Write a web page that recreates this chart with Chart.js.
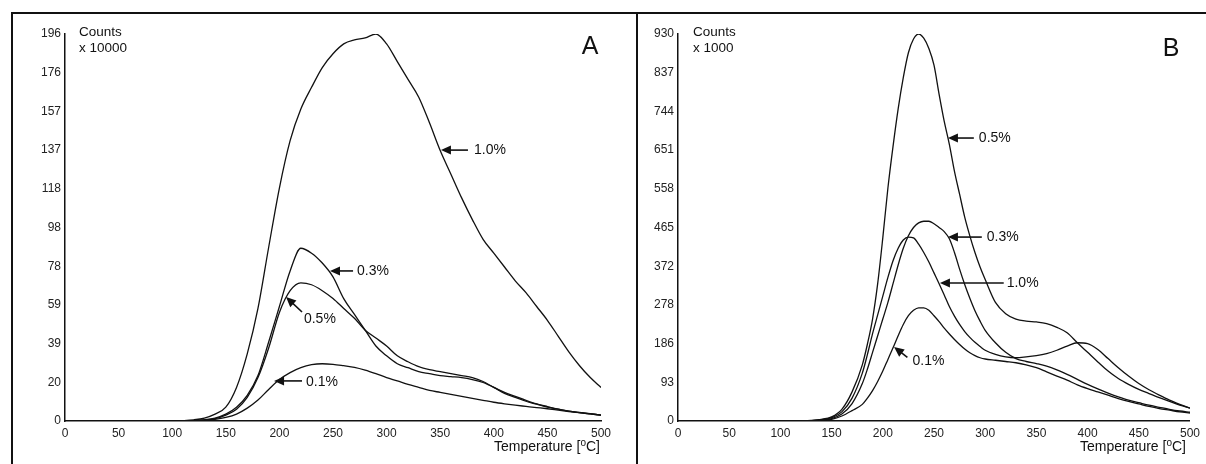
<!DOCTYPE html>
<html><head><meta charset="utf-8">
<script src="https://cdn.jsdelivr.net/npm/chart.js@4/dist/chart.umd.min.js"></script>
<style>
html,body{margin:0;padding:0;background:#fff;width:1206px;height:464px;overflow:hidden;position:relative}
.ln{position:absolute;background:#111}
canvas{position:absolute}
</style></head><body>
<div class="ln" style="left:11px;top:12px;width:1195px;height:2px"></div>
<div class="ln" style="left:11px;top:12px;width:2px;height:452px"></div>
<div class="ln" style="left:636px;top:12px;width:2px;height:452px"></div>
<canvas id="cA" width="622" height="449" style="left:14px;top:15px"></canvas>
<canvas id="cB" width="566" height="449" style="left:639px;top:15px"></canvas>
<script>
// ---------- Data ----------
const xTicks = [0,50,100,150,200,250,300,350,400,450,500];

// Panel A (Counts x 10000)
const yLabelsA = ['0','20','39','59','78','98','118','137','157','176','196'];
const tempsA = [0,50,100,110,120,130,140,150,160,170,180,190,200,210,220,230,240,250,260,270,280,290,300,310,320,330,340,350,360,370,380,390,400,410,420,430,440,450,460,470,480,490,500];
const a10 = [0,0,0,0.2,0.6,1.5,3.5,7,17,34,57,88,118,142,158,169,179,186,191,193,194,196,191,182,173,164,151,137,125,113,102,92,85,78,71,65,58,51,43,35,28,22,17];
const a03 = [0,0,0,0,0.2,0.6,1.5,3.5,7,13,23,40,58,76,87.5,85,80,73,62,54,46,38,33,29,27,25,24,23,22.5,22,21,19.5,17,14,12,10,8.5,7,6,5,4.3,3.7,3];
const a05 = [0,0,0,0,0.2,0.5,1.2,3,6,12,22,37,55,66,70,69,66,62,57,52,46,42,38,33,30,27.5,26,25,24,23,22,20,17,14.5,12.5,10.5,8.7,7.3,6,5,4.2,3.6,3];
const a01 = [0,0,0,0,0.1,0.3,0.8,1.8,3.5,6.5,10.6,16,21,24.5,27,28.5,29,28.7,28,27.2,25.8,24,22,20.3,18.5,17,15.5,14.5,13.5,12.5,11.5,10.5,9.5,8.7,8,7.4,6.8,6.2,5.5,4.8,4.2,3.6,3];

// Panel B (Counts x 1000)
const yLabelsB = ['0','93','186','278','372','465','558','651','744','837','930'];
const tempsB = [0,50,100,110,120,130,140,150,160,170,180,185,190,195,200,205,210,215,220,225,230,235,240,245,250,255,260,265,270,275,280,285,290,295,300,310,320,330,340,350,360,370,380,390,400,410,420,430,440,450,460,470,480,490,500];
const b05 = [0,0,0,0,0.5,1.5,4,10,28,70,135,185,245,330,440,560,660,750,825,885,918,930,920,895,855,785,720,665,600,545,490,445,405,370,340,285,258,245,240,238,234,225,212,188,165,142,120,102,88,76,66,56,47,38,31];
const b10 = [0,0,0,0,0.3,1,3,8,22,55,115,160,210,255,300,345,385,415,435,442,440,425,405,382,356,330,303,275,252,232,215,201,189,179,170,160,154,152,154,157,162,170,180,188,186,172,150,128,108,90,75,62,50,40,31];
const b03 = [0,0,0,0,0.2,0.8,2.5,6,17,42,90,125,165,205,245,285,330,375,415,445,465,476,480,480,474,465,455,438,405,365,328,295,265,240,218,188,165,150,143,138,132,123,112,100,88,77,67,58,50,44,38,33,28,24,21];
const b01 = [0,0,0,0,0.1,0.5,1.5,4,12,25,40,55,73,95,120,148,176,205,232,253,266,272,272,266,253,239,223,209,196,184,173,164,157,152,149,146,143,140,135,128,118,108,98,87,78,70,62,54,47,41,35,30,26,22,19];

// Annotations (data coordinates)
const notesA = [
  {text:'1.0%', tip:[350.7,137.2], tail:[375.9,137.2], label:[381.5,137.2]},
  {text:'0.3%', tip:[247.2,76], tail:[268.7,76], label:[272.4,76]},
  {text:'0.5%', tip:[206.2,62.8], tail:[221.1,55.2], label:[222.9,51.5]},
  {text:'0.1%', tip:[195,20.3], tail:[221.1,20.3], label:[224.8,19.5]}
];
const notesB = [
  {text:'0.5%', tip:[263.6,680], tail:[288.9,680], label:[293.8,680]},
  {text:'0.3%', tip:[263.6,442], tail:[296.7,442], label:[301.6,442]},
  {text:'1.0%', tip:[255.8,331.6], tail:[318.1,331.6], label:[321,331.6]},
  {text:'0.1%', tip:[211,178], tail:[224,153], label:[229,143]}
];

// ---------- Drawing ----------
const FONT = '"Liberation Sans", Arial, Helvetica, sans-serif';
const INK = '#111';

const overlay = {
  id:'overlay',
  afterDraw(chart, args, o){
    const ctx = chart.ctx, xs = chart.scales.x, ys = chart.scales.y, ca = chart.chartArea;
    ctx.save();
    ctx.fillStyle = INK; ctx.strokeStyle = INK;
    ctx.textBaseline = 'middle'; ctx.textAlign = 'left';
    ctx.font = '13.5px ' + FONT;
    ctx.fillText(o.unit[0], ca.left + o.unitDx, ca.top - 2);
    ctx.fillText(o.unit[1], ca.left + o.unitDx, ca.top + 14);
    ctx.font = '25px ' + FONT; ctx.textAlign = 'center';
    ctx.fillText(o.letter, ca.right + o.letterDx, ca.top + o.letterDy);
    // axis title with superscript
    ctx.textAlign = 'left';
    const p1 = 'Temperature [', p2 = 'o', p3 = 'C]';
    ctx.font = '14px ' + FONT; const w1 = ctx.measureText(p1).width, w3 = ctx.measureText(p3).width;
    ctx.font = '10px ' + FONT; const w2 = ctx.measureText(p2).width;
    let x0 = ca.right + o.titleDx - (w1 + w2 + w3), yT = ca.bottom + 26;
    ctx.font = '14px ' + FONT; ctx.fillText(p1, x0, yT);
    ctx.font = '10px ' + FONT; ctx.fillText(p2, x0 + w1, yT - 4);
    ctx.font = '14px ' + FONT; ctx.fillText(p3, x0 + w1 + w2, yT);
    // arrows and labels
    o.notes.forEach(n => {
      const tx = xs.getPixelForValue(n.tip[0]), ty = ys.getPixelForValue(n.tip[1]);
      const sx = xs.getPixelForValue(n.tail[0]), sy = ys.getPixelForValue(n.tail[1]);
      const ang = Math.atan2(ty - sy, tx - sx), c = Math.cos(ang), s = Math.sin(ang);
      ctx.lineWidth = 1.6;
      ctx.beginPath(); ctx.moveTo(sx, sy); ctx.lineTo(tx - 6*c, ty - 6*s); ctx.stroke();
      const L = 10, W = 4.5;
      ctx.beginPath(); ctx.moveTo(tx, ty);
      ctx.lineTo(tx - L*c + W*s, ty - L*s - W*c);
      ctx.lineTo(tx - L*c - W*s, ty - L*s + W*c);
      ctx.closePath(); ctx.fill();
      ctx.font = '14px ' + FONT;
      ctx.fillText(n.text, xs.getPixelForValue(n.label[0]), ys.getPixelForValue(n.label[1]));
    });
    ctx.restore();
  }
};

function series(temps, vals){
  return {data: temps.map((t,i)=>({x:t, y:vals[i]})), borderColor:INK, borderWidth:1.3,
          pointRadius:0, cubicInterpolationMode:'monotone', fill:false};
}

function makeChart(id, temps, vals, yLabels, yStep, yW, padRight, ov){
  new Chart(document.getElementById(id), {
    type:'line',
    data:{datasets: vals.map(v => series(temps, v))},
    plugins:[overlay],
    options:{
      responsive:false, animation:false, devicePixelRatio:1,
      layout:{padding:{left:0, right:padRight, top:19, bottom:0}},
      plugins:{legend:{display:false}, tooltip:{enabled:false}, overlay:ov},
      scales:{
        x:{type:'linear', min:0, max:500,
           afterBuildTicks: s => { s.ticks = xTicks.map(v => ({value:v})); },
           afterFit: s => { s.height = 43; },
           grid:{display:false, drawTicks:false},
           border:{display:true, color:INK, width:1.5},
           ticks:{color:'#222', font:{family:FONT, size:12}, padding:5, maxRotation:0, autoSkip:false}},
        y:{type:'linear', min:0, max:yStep*(yLabels.length-1),
           afterBuildTicks: s => { s.ticks = yLabels.map((l,i) => ({value:i*yStep})); },
           afterFit: s => { s.width = yW; },
           grid:{display:false, drawTicks:false},
           border:{display:true, color:INK, width:1.5},
           ticks:{color:'#222', font:{family:FONT, size:12}, padding:4, autoSkip:false,
                  callback:(v,i) => yLabels[i]}}
      }
    }
  });
}

makeChart('cA', tempsA, [a10, a03, a05, a01], yLabelsA, 19.6, 51, 35,
  {unit:['Counts','x 10000'], unitDx:14, letter:'A', letterDx:-11, letterDy:13, titleDx:-1, notes:notesA});
makeChart('cB', tempsB, [b05, b10, b03, b01], yLabelsB, 93, 39, 14,
  {unit:['Counts','x 1000'], unitDx:15, letter:'B', letterDx:-19, letterDy:15, titleDx:-4, notes:notesB});
</script>
</body></html>
